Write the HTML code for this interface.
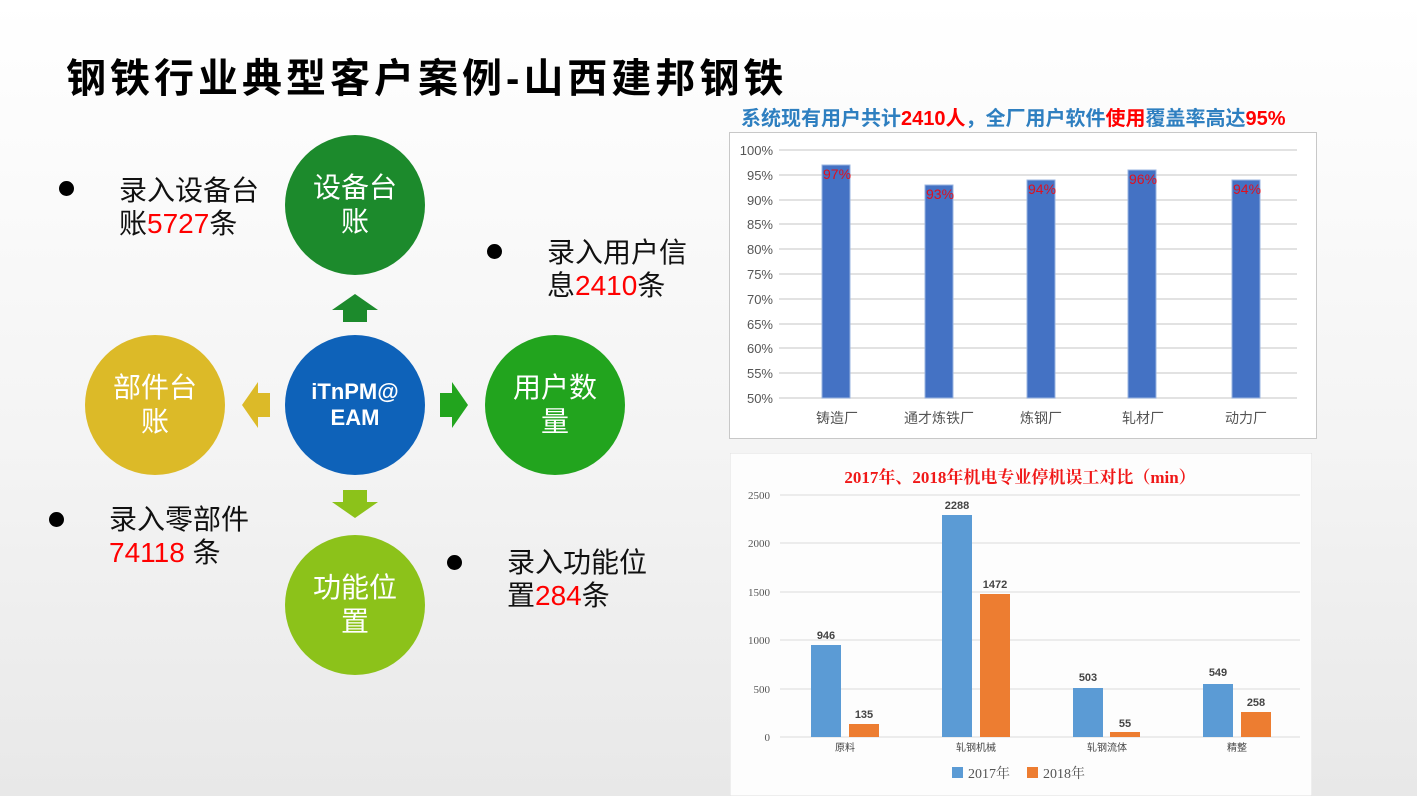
<!DOCTYPE html>
<html><head><meta charset="utf-8"><style>
body{margin:0;width:1417px;height:796px;overflow:hidden;position:relative;background:linear-gradient(#ffffff,#f3f3f3 60%,#e8e8e8);font-family:"Liberation Sans","Noto Sans CJK SC",sans-serif}
.a{position:absolute;white-space:nowrap}
.c{position:absolute;border-radius:50%;color:#fff;display:flex;align-items:center;justify-content:center;text-align:center;font-size:28px;line-height:34px;width:140px;height:140px}
.t{font-size:28px;line-height:33px;color:#111}
.r{color:#f00}
.dot{position:absolute;width:15px;height:15px;border-radius:50%;background:#000}
</style></head><body>
<div class="a" style="left:66px;top:46px;font-size:40px;font-weight:bold;letter-spacing:4px;color:#000">钢铁行业典型客户案例-山西建邦钢铁</div>

<div class="c" style="left:285px;top:135px;background:#1c8a2c">设备台<br>账</div>
<div class="c" style="left:285px;top:335px;background:#0e62b9;font-weight:bold;font-size:22px;line-height:26px">iTnPM@<br>EAM</div>
<div class="c" style="left:485px;top:335px;background:#22a41e">用户数<br>量</div>
<div class="c" style="left:285px;top:535px;background:#8cc21a">功能位<br>置</div>
<div class="c" style="left:85px;top:335px;background:#dcba28">部件台<br>账</div>
<svg class="a" style="left:0;top:0" width="700" height="796">
<polygon points="355,294 378,310 367,310 367,322 343,322 343,310 332,310" fill="#1c8a2c"/>
<polygon points="355,518 378,502 367,502 367,490 343,490 343,502 332,502" fill="#8cc21a"/>
<polygon points="468,405 452,382 452,393 440,393 440,417 452,417 452,428" fill="#22a41e"/>
<polygon points="242,405 258,382 258,393 270,393 270,417 258,417 258,428" fill="#dcba28"/>
</svg>

<div class="dot" style="left:59px;top:181px"></div>
<div class="a t" style="left:119px;top:174px">录入设备台<br>账<span class="r">5727</span>条</div>
<div class="dot" style="left:487px;top:244px"></div>
<div class="a t" style="left:547px;top:236px">录入用户信<br>息<span class="r">2410</span>条</div>
<div class="dot" style="left:49px;top:512px"></div>
<div class="a t" style="left:109px;top:503px">录入零部件<br><span class="r">74118 </span>条</div>
<div class="dot" style="left:447px;top:555px"></div>
<div class="a t" style="left:507px;top:546px">录入功能位<br>置<span class="r">284</span>条</div>

<div class="a" style="left:741px;top:102px;font-size:20px;font-weight:bold;color:#2e7fc0">系统现有用户共计<span class="r">2410人</span>，全厂用户软件<span class="r">使用</span>覆盖率高达<span class="r">95%</span></div>

<svg class="a" style="left:729px;top:132px" width="588" height="307">
<rect x="0.5" y="0.5" width="587" height="306" fill="#fff" stroke="#c8c8c8"/>
<g stroke="#d9d9d9" stroke-width="1.5">
<line x1="50" x2="568" y1="18" y2="18"/><line x1="50" x2="568" y1="43" y2="43"/><line x1="50" x2="568" y1="68" y2="68"/><line x1="50" x2="568" y1="92" y2="92"/><line x1="50" x2="568" y1="117" y2="117"/><line x1="50" x2="568" y1="142" y2="142"/><line x1="50" x2="568" y1="167" y2="167"/><line x1="50" x2="568" y1="192" y2="192"/><line x1="50" x2="568" y1="216" y2="216"/><line x1="50" x2="568" y1="241" y2="241"/><line x1="50" x2="568" y1="266" y2="266"/>
</g>
<g font-size="13" fill="#555" text-anchor="end">
<text x="44" y="23">100%</text><text x="44" y="48">95%</text><text x="44" y="73">90%</text><text x="44" y="97">85%</text><text x="44" y="122">80%</text><text x="44" y="147">75%</text><text x="44" y="172">70%</text><text x="44" y="197">65%</text><text x="44" y="221">60%</text><text x="44" y="246">55%</text><text x="44" y="271">50%</text>
</g>
<g fill="#4472c4" stroke="#9ab4e0">
<rect x="93" y="33" width="28" height="233"/><rect x="196" y="53" width="28" height="213"/><rect x="298" y="48" width="28" height="218"/><rect x="399" y="38" width="28" height="228"/><rect x="503" y="48" width="28" height="218"/>
</g>
<g font-size="14" fill="#e0101e">
<text x="94" y="47">97%</text><text x="197" y="67">93%</text><text x="299" y="62">94%</text><text x="400" y="52">96%</text><text x="504" y="62">94%</text>
</g>
<g font-size="14" fill="#555" text-anchor="middle">
<text x="108" y="291">铸造厂</text><text x="210" y="291">通才炼铁厂</text><text x="312" y="291">炼钢厂</text><text x="414" y="291">轧材厂</text><text x="517" y="291">动力厂</text>
</g>
</svg>

<svg class="a" style="left:730px;top:453px" width="582" height="343">
<rect x="0" y="0" width="582" height="343" fill="#fdfdfd" stroke="#e0e0e0"/>
<text x="290" y="30" font-family="Liberation Serif,Noto Serif CJK SC,serif" font-size="17" font-weight="bold" fill="#f01818" text-anchor="middle">2017年、2018年机电专业停机误工对比（min）</text>
<g stroke="#e2e2e2" stroke-width="1.2">
<line x1="50" x2="570" y1="42" y2="42"/><line x1="50" x2="570" y1="90" y2="90"/><line x1="50" x2="570" y1="139" y2="139"/><line x1="50" x2="570" y1="187" y2="187"/><line x1="50" x2="570" y1="236" y2="236"/><line x1="50" x2="570" y1="284" y2="284"/>
</g>
<g font-size="11" fill="#555" text-anchor="end" font-family="Liberation Serif,serif">
<text x="40" y="46">2500</text><text x="40" y="94">2000</text><text x="40" y="143">1500</text><text x="40" y="191">1000</text><text x="40" y="240">500</text><text x="40" y="288">0</text>
</g>
<g fill="#5b9bd5"><rect x="81" y="192" width="30" height="92"/><rect x="212" y="62" width="30" height="222"/><rect x="343" y="235" width="30" height="49"/><rect x="473" y="231" width="30" height="53"/></g>
<g fill="#ed7d31"><rect x="119" y="271" width="30" height="13"/><rect x="250" y="141" width="30" height="143"/><rect x="380" y="279" width="30" height="5"/><rect x="511" y="259" width="30" height="25"/></g>
<g font-size="11" fill="#444" text-anchor="middle" font-weight="bold">
<text x="96" y="186">946</text><text x="134" y="265">135</text><text x="227" y="56">2288</text><text x="265" y="135">1472</text><text x="358" y="228">503</text><text x="395" y="274">55</text><text x="488" y="223">549</text><text x="526" y="253">258</text>
</g>
<g font-size="10" fill="#444" text-anchor="middle">
<text x="115" y="298">原料</text><text x="246" y="298">轧钢机械</text><text x="377" y="298">轧钢流体</text><text x="507" y="298">精整</text>
</g>
<rect x="222" y="314" width="11" height="11" fill="#5b9bd5"/><text x="238" y="325" font-size="14" fill="#555" font-family="Liberation Serif,Noto Serif CJK SC,serif">2017年</text>
<rect x="297" y="314" width="11" height="11" fill="#ed7d31"/><text x="313" y="325" font-size="14" fill="#555" font-family="Liberation Serif,Noto Serif CJK SC,serif">2018年</text>
</svg>
</body></html>
